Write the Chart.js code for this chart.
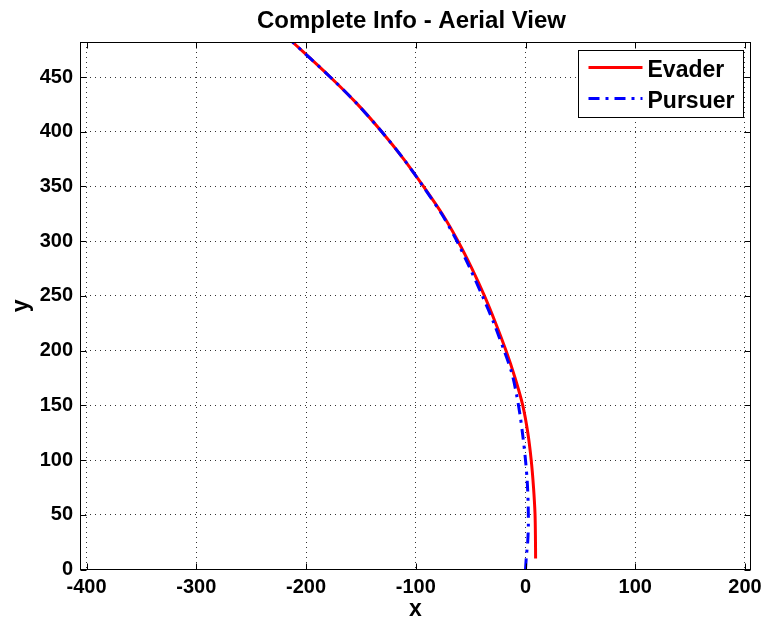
<!DOCTYPE html>
<html lang="en">
  <head>
    <meta charset="UTF-8" />
    <title>Complete Info - Aerial View</title>
    <script src="https://cdn.jsdelivr.net/npm/chart.js"></script>
    <style>
      html, body { margin: 0; padding: 0; background: #fff; }
    </style>
  </head>
  <body>
    <canvas id="myChart" width="764" height="629"></canvas>
    <script>
      // evader path (red, solid)
      const evaderX = [9.2, 9.1, 8.7, 7.3, 5.2, 2.1, -2.5, -9.5, -17.8, -27.2, -37.4, -48.8, -61.5, -76, -93, -111, -131, -153, -178, -212.3];
      const evaderY = [10, 25, 50, 75, 100, 125, 150, 175, 200, 225, 250, 275, 300, 325, 350, 375, 400, 425, 450, 482];
      // pursuer path (blue, dash-dot)
      const pursuerX = [0, 0.8, 2.0, 2.6, 2.4, 1.6, 0, -2.2, -4.8, -8.2, -12.6, -19.5, -28.8, -39.3, -50.5, -62.5, -76.5, -93.3, -111, -131, -153, -178, -212.3];
      const pursuerY = [0, 12, 25, 40, 60, 80, 100, 120, 140, 160, 180, 200, 225, 250, 275, 300, 325, 350, 375, 400, 425, 450, 482];
      const xTicks = [-400, -300, -200, -100, 0, 100, 200];
      const yTicks = [0, 50, 100, 150, 200, 250, 300, 350, 400, 450];
      const seriesNames = ["Evader", "Pursuer"];

      const font = "Liberation Sans, Arial, Helvetica, sans-serif";

      function toPoints(xs, ys) {
        return xs.map(function (x, i) {
          return { x: x, y: ys[i] };
        });
      }

      //---------------------------- frame, inward ticks, legend, title ----------------------------//
      const matlabLook = {
        id: "matlabLook",
        afterDraw(chart) {
          const ctx = chart.ctx;
          const a = chart.chartArea;
          const sx = chart.scales.x;
          const sy = chart.scales.y;
          const L = Math.round(a.left) + 0.5;
          const R = Math.round(a.right) - 0.5;
          const T = Math.round(a.top) + 0.5;
          const B = Math.round(a.bottom) - 0.5;
          ctx.save();
          ctx.strokeStyle = "#000";
          ctx.lineWidth = 1;
          ctx.strokeRect(L, T, R - L, B - T);
          ctx.beginPath();
          xTicks.forEach(function (v) {
            const px = Math.round(sx.getPixelForValue(v)) + 0.5;
            ctx.moveTo(px, B);
            ctx.lineTo(px, B - 6);
            ctx.moveTo(px, T);
            ctx.lineTo(px, T + 6);
          });
          yTicks.forEach(function (v) {
            const py = Math.round(sy.getPixelForValue(v)) + 0.5;
            ctx.moveTo(L, py);
            ctx.lineTo(L + 6, py);
            ctx.moveTo(R, py);
            ctx.lineTo(R - 6, py);
          });
          ctx.stroke();

          // legend
          const bx = R - 7;
          const lx = bx - 165;
          const ly = T + 8;
          ctx.fillStyle = "#fff";
          ctx.fillRect(lx, ly, 165, 67);
          ctx.strokeRect(lx, ly, 165, 67);
          ctx.font = "bold 23px " + font;
          ctx.textBaseline = "alphabetic";
          ctx.textAlign = "left";
          chart.data.datasets.forEach(function (ds, i) {
            const rowY = ly + 17 + i * 31;
            ctx.save();
            ctx.strokeStyle = ds.borderColor;
            ctx.lineWidth = ds.borderWidth;
            ctx.setLineDash(ds.borderDash || []);
            ctx.beginPath();
            ctx.moveTo(lx + 10, rowY);
            ctx.lineTo(lx + 64, rowY);
            ctx.stroke();
            ctx.restore();
            ctx.fillStyle = "#000";
            ctx.fillText(seriesNames[i], lx + 69, rowY + 9);
          });

          // title
          ctx.font = "bold 24px " + font;
          ctx.textAlign = "center";
          ctx.fillStyle = "#000";
          ctx.fillText("Complete Info - Aerial View", (a.left + a.right) / 2 - 4, 28);
          ctx.restore();
        },
      };

      const ctx = document.querySelector("#myChart");
      const chart = new Chart(ctx, {
        type: "scatter",
        data: {
          datasets: [
            {
              label: seriesNames[0],
              data: toPoints(evaderX, evaderY),
              showLine: true,
              borderColor: "#ff0000",
              borderWidth: 3,
              pointRadius: 0,
              tension: 0.3,
              order: 1,
            },
            {
              label: seriesNames[1],
              data: toPoints(pursuerX, pursuerY),
              showLine: true,
              borderColor: "#0000ff",
              borderWidth: 3,
              borderDash: [11, 6, 3, 6],
              pointRadius: 0,
              tension: 0.3,
              order: 0,
            },
          ],
        },
        options: {
          responsive: false,
          animation: false,
          devicePixelRatio: 1,
          layout: { padding: { top: 42, right: 13, left: 0, bottom: 0 } },
          plugins: {
            legend: { display: false },
            title: { display: false },
            tooltip: { enabled: false },
          },
          scales: {
            x: {
              type: "linear",
              min: -406,
              max: 205.5,
              afterBuildTicks: function (s) {
                s.ticks = xTicks.map(function (v) {
                  return { value: v };
                });
              },
              afterFit: function (s) {
                s.height = 59.5;
                s.paddingLeft = 0;
                s.paddingRight = 0;
              },
              grid: { color: "#333", lineWidth: 1, drawTicks: false },
              border: { display: false, dash: [1, 4] },
              ticks: {
                color: "#000",
                padding: 6,
                font: { family: font, size: 20, weight: "bold" },
              },
              title: {
                display: true,
                text: "x",
                color: "#000",
                padding: { top: 0, bottom: 6 },
                font: { family: font, size: 23, weight: "bold" },
              },
            },
            y: {
              type: "linear",
              min: 0,
              max: 482,
              afterBuildTicks: function (s) {
                s.ticks = yTicks.map(function (v) {
                  return { value: v };
                });
              },
              afterFit: function (s) {
                s.width = 80;
                s.paddingTop = 0;
                s.paddingBottom = 0;
              },
              grid: { color: "#333", lineWidth: 1, drawTicks: false },
              border: { display: false, dash: [1, 4] },
              ticks: {
                color: "#000",
                padding: 7,
                font: { family: font, size: 20, weight: "bold" },
              },
              title: {
                display: true,
                text: "y",
                color: "#000",
                padding: { top: 8, bottom: 0 },
                font: { family: font, size: 23, weight: "bold" },
              },
            },
          },
        },
        plugins: [matlabLook],
      });
    </script>
  </body>
</html>
